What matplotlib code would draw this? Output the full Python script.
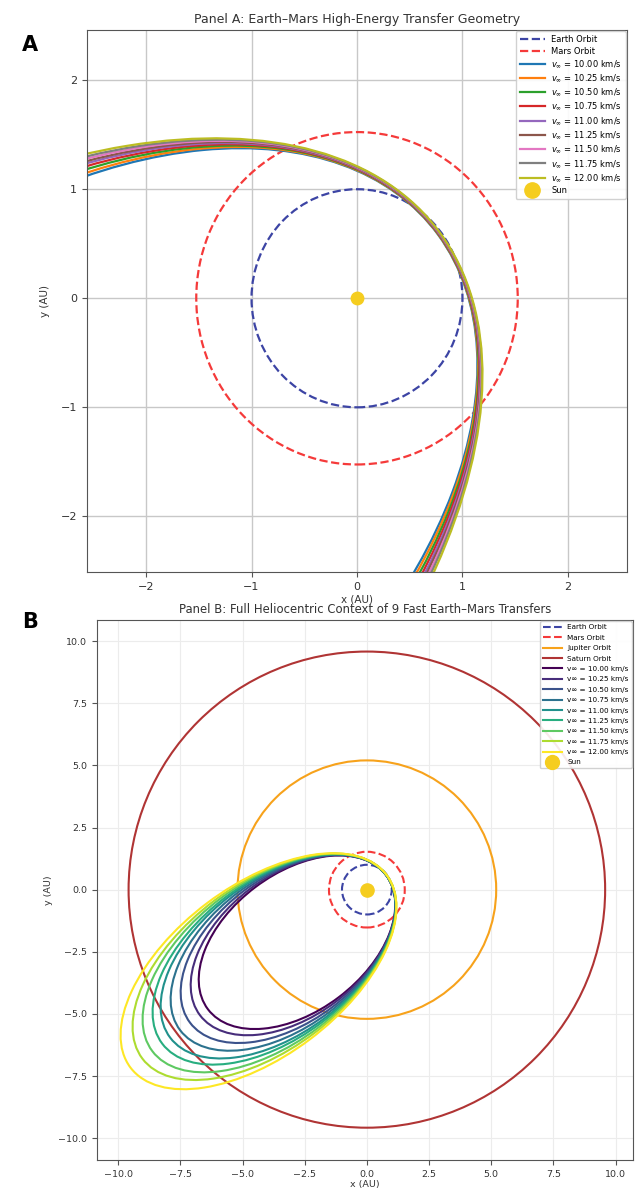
import matplotlib
matplotlib.use('Agg')
import matplotlib.pyplot as plt
import numpy as np
from matplotlib.patches import Circle, Ellipse
from matplotlib.lines import Line2D

# ---- data ----
v_inf = [10.00, 10.25, 10.50, 10.75, 11.00, 11.25, 11.50, 11.75, 12.00]   # km/s
perihelion_au = [0.965, 0.968, 0.971, 0.974, 0.977, 0.98, 0.983, 0.986, 0.99]
aphelion_au = [8.0, 8.4, 8.9, 9.4, 9.9, 10.3, 10.8, 11.3, 11.9]
apse_angle_deg = [37, 37, 37, 37, 37, 37, 37, 37, 37]

orbit_names = ['Earth Orbit', 'Mars Orbit', 'Jupiter Orbit', 'Saturn Orbit']
orbit_radius = [1.0, 1.524, 5.2, 9.58]
orbit_colors = ['#3c44a4', '#f53a3a', '#f7a21b', '#b03434']
orbit_styles = ['--', '--', '-', '-']

fig_w, fig_h = 637, 1188


def conic_ellipse(q, Q, ang):
  # ellipse with the Sun at one focus -> centre, width, height for the patch
  a = (q + Q) / 2.0
  c = a - q
  b = np.sqrt(a * a - c * c)
  t = np.radians(ang)
  return (-c * np.cos(t), -c * np.sin(t)), 2 * a, 2 * b


def draw_orbits(ax, n, lw):
  handles = []
  for name, r, col, ls in zip(orbit_names[:n], orbit_radius[:n], orbit_colors[:n], orbit_styles[:n]):
    ax.add_patch(Circle((0, 0), r, fill=False, edgecolor=col, linestyle=ls, lw=lw))
    handles.append(Line2D([], [], color=col, ls=ls, lw=lw, label=name))
  return handles


def draw_transfers(ax, colors, labels, lw):
  handles = []
  for q, Q, ang, col, lab in zip(perihelion_au, aphelion_au, apse_angle_deg, colors, labels):
    centre, w, h = conic_ellipse(q, Q, ang)
    ax.add_patch(Ellipse(centre, w, h, angle=ang, fill=False, edgecolor=col, lw=lw))
    handles.append(Line2D([], [], color=col, lw=lw, label=lab))
  return handles


def main():
  fig = plt.figure(figsize=(fig_w / 100, fig_h / 100), dpi=100)

  ####################################
  # Panel A
  axA = fig.add_axes([87 / fig_w, 1 - 572 / fig_h, (627 - 87) / fig_w, (572 - 30) / fig_h])
  hA = draw_orbits(axA, 2, 1.6)
  tab = ['C%d' % i for i in range(9)]
  hA += draw_transfers(axA, tab, [r'$v_\infty$ = %.2f km/s' % v for v in v_inf], 1.6)
  axA.scatter([0], [0], s=80, color='#f5cd1f', zorder=5)
  hA.append(Line2D([], [], ls='', marker='o', ms=11, color='#f5cd1f', label='Sun'))
  axA.set_xlim(-2.56, 2.56)
  axA.set_ylim(-2.51, 2.46)
  axA.set_xticks([-2, -1, 0, 1, 2])
  axA.set_yticks([-2, -1, 0, 1, 2])
  axA.grid(True, color='#c8c8c8', lw=1.0)
  axA.set_axisbelow(True)
  axA.tick_params(labelsize=8, color='#555555', labelcolor='#333333')
  for s in axA.spines.values():
    s.set_color('#555555')
  axA.set_title('Panel A: Earth\u2013Mars High-Energy Transfer Geometry', fontsize=9, color='#333333', pad=5)
  axA.set_ylabel('y (AU)', fontsize=7.5, color='#333333', labelpad=8)
  axA.set_xlabel('x (AU)', fontsize=7.5, color='#333333', labelpad=2)
  axA.legend(handles=hA, loc='upper right', fontsize=6, labelspacing=0.3, handlelength=3.0,
             borderpad=0.45, borderaxespad=0.15, framealpha=0.9)

  ####################################
  # Panel B
  axB = fig.add_axes([97 / fig_w, 1 - 1160 / fig_h, (633 - 97) / fig_w, (1160 - 620) / fig_h])
  hB = draw_orbits(axB, 4, 1.5)
  vir = plt.cm.viridis(np.linspace(0, 1, len(v_inf)))
  hB += draw_transfers(axB, vir, ['v\u221e = %.2f km/s' % v for v in v_inf], 1.5)
  axB.scatter([0], [0], s=90, color='#f5cd1f', zorder=5)
  hB.append(Line2D([], [], ls='', marker='o', ms=10, color='#f5cd1f', label='Sun'))
  axB.set_xlim(-10.85, 10.7)
  axB.set_ylim(-10.88, 10.85)
  ticks = [-10.0, -7.5, -5.0, -2.5, 0.0, 2.5, 5.0, 7.5, 10.0]
  axB.set_xticks(ticks)
  axB.set_yticks(ticks)
  axB.grid(True, color='#ececec', lw=0.8)
  axB.set_axisbelow(True)
  axB.tick_params(labelsize=6.8, color='#555555', labelcolor='#333333')
  for s in axB.spines.values():
    s.set_color('#555555')
  axB.set_title('Panel B: Full Heliocentric Context of 9 Fast Earth\u2013Mars Transfers', fontsize=8.4,
                color='#333333', pad=5)
  axB.set_ylabel('y (AU)', fontsize=6.8, color='#333333')
  axB.set_xlabel('x (AU)', fontsize=6.8, color='#333333', labelpad=1)
  axB.legend(handles=hB, loc='upper right', fontsize=5.2, labelspacing=0.6, handlelength=2.6,
             borderpad=0.4, borderaxespad=0.2, framealpha=0.9)

  fig.text(22 / fig_w, 1 - 45 / fig_h, 'A', fontsize=15, fontweight='bold', ha='left', va='center')
  fig.text(22 / fig_w, 1 - 622 / fig_h, 'B', fontsize=15, fontweight='bold', ha='left', va='center')

  fig.savefig('out.png', dpi=100)


if __name__ == '__main__':
  main()
